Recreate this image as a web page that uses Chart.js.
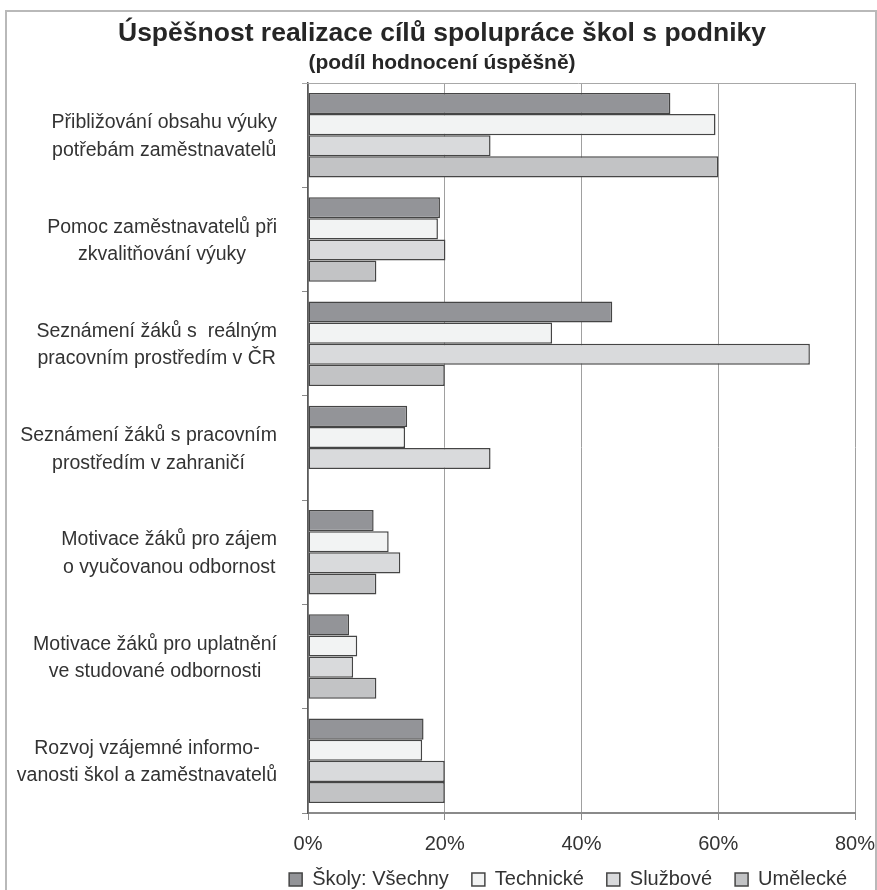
<!DOCTYPE html>
<html>
<head>
<meta charset="utf-8">
<script src="https://cdn.jsdelivr.net/npm/chart.js@4.4.1/dist/chart.umd.min.js"></script>
<style>
  html, body { margin: 0; padding: 0; background: #fff; }
  #wrap { position: relative; width: 877px; height: 890px; overflow: hidden; }
  #frame { position: absolute; left: 5px; top: 10px; width: 868px; height: 900px; border: 2px solid #b9b9b9; }
  canvas { position: absolute; left: 0; top: 0; }
</style>
</head>
<body>
<div id="wrap">
  <div id="frame"></div>
  <canvas id="c" width="877" height="890"></canvas>
</div>
<script>
const titleText = 'Úspěšnost realizace cílů spolupráce škol s podniky';
const subtitleText = '(podíl hodnocení úspěšně)';

const categories = [
  ['Přibližování obsahu výuky', 'potřebám zaměstnavatelů'],
  ['Pomoc zaměstnavatelů při', 'zkvalitňování výuky'],
  ['Seznámení žáků s  reálným', 'pracovním prostředím v ČR'],
  ['Seznámení žáků s pracovním', 'prostředím v zahraničí'],
  ['Motivace žáků pro zájem', 'o vyučovanou odbornost'],
  ['Motivace žáků pro uplatnění', 've studované odbornosti'],
  ['Rozvoj vzájemné informo-', 'vanosti škol a zaměstnavatelů']
];

const seriesNames = ['Školy: Všechny', 'Technické', 'Službové', 'Umělecké'];

const vsechny  = [53.0, 19.3, 44.5, 14.5, 9.6, 6.0, 16.9];
const technicke = [59.6, 19.0, 35.7, 14.2, 11.8, 7.2, 16.7];
const sluzbove = [26.7, 20.1, 73.4, 26.7, 13.5, 6.6, 20.0];
const umelecke = [60.0, 10.0, 20.0, null, 10.0, 10.0, 20.0];

const tickValues = [0, 20, 40, 60, 80];
const tickLabels = ['0%', '20%', '40%', '60%', '80%'];

const fillColors = ['#939498', '#f2f3f3', '#d9dadc', '#c2c3c5'];
const FONT = '"Liberation Sans", Arial, sans-serif';

const seriesValues = [vsechny, technicke, sluzbove, umelecke];

const datasets = seriesNames.map((name, i) => ({
  label: name,
  data: seriesValues[i],
  backgroundColor: fillColors[i],
  borderColor: '#454545',
  borderWidth: 1.5,
  borderSkipped: false,
  categoryPercentage: 0.81,
  barPercentage: 1.0
}));

const customLabels = {
  id: 'customLabels',
  afterLayout(chart) {
    if (chart.legend) {
      chart.legend.top -= 9.5;
    }
  },
  afterDraw(chart) {
    const ctx = chart.ctx;
    const ys = chart.scales.y;
    const ca = chart.chartArea;
    ctx.save();
    // plot top border
    ctx.strokeStyle = '#a8a8a8';
    ctx.lineWidth = 1;
    ctx.beginPath();
    ctx.moveTo(ca.left - 6, ca.top + 0.5);
    ctx.lineTo(ca.right, ca.top + 0.5);
    ctx.stroke();
    // category labels: lines centered within block, block right-aligned
    ctx.font = '19.5px ' + FONT;
    ctx.fillStyle = '#333333';
    ctx.textAlign = 'center';
    ctx.textBaseline = 'middle';
    const lh = 27.5;
    categories.forEach((lines, i) => {
      const yc = ys.getPixelForTick(i) + 1.5;
      const maxW = Math.max(...lines.map(l => ctx.measureText(l).width));
      const cx = ys.right - 31 - maxW / 2;
      lines.forEach((l, j) => {
        ctx.fillText(l, cx, yc + (j - (lines.length - 1) / 2) * lh);
      });
    });
    ctx.restore();
  }
};

new Chart(document.getElementById('c'), {
  type: 'bar',
  data: { labels: categories, datasets },
  plugins: [customLabels],
  options: {
    indexAxis: 'y',
    responsive: false,
    animation: false,
    devicePixelRatio: 1,
    layout: { padding: { left: 14, right: 7, top: 0, bottom: 0 } },
    scales: {
      x: {
        min: 0, max: 80,
        afterBuildTicks(scale) { scale.ticks = tickValues.map(v => ({ value: v })); },
        afterFit(scale) { scale.height = 43; scale.paddingLeft = 0; scale.paddingRight = 22; },
        ticks: {
          callback: (v) => tickLabels[tickValues.indexOf(v)],
          font: { family: FONT, size: 20 },
          color: '#333333',
          padding: 12,
          maxRotation: 0
        },
        grid: { color: '#a0a0a0', lineWidth: 1, drawTicks: true, tickLength: 7, tickColor: '#8a8a8a' },
        border: { display: true, color: '#8a8a8a', width: 2 }
      },
      y: {
        afterFit(scale) { scale.width = 294; },
        ticks: { color: 'rgba(0,0,0,0)', font: { family: FONT, size: 19.5 } },
        grid: { drawOnChartArea: false, drawTicks: true, tickLength: 6, tickColor: '#8a8a8a', offset: true },
        border: { display: true, color: '#5a5a5a', width: 1.5 }
      }
    },
    plugins: {
      title: {
        display: true,
        text: titleText,
        font: { family: FONT, size: 26.5, weight: 'bold' },
        color: '#262626',
        padding: { top: 18, bottom: 1 }
      },
      subtitle: {
        display: true,
        text: subtitleText,
        font: { family: FONT, size: 21, weight: 'bold' },
        color: '#262626',
        padding: { top: 0, bottom: 7 }
      },
      legend: {
        position: 'bottom',
        align: 'end',
        maxHeight: 34,
        labels: {
          font: { family: FONT, size: 20 },
          color: '#333333',
          boxWidth: 13,
          boxHeight: 13,
          padding: 23
        }
      },
      tooltip: { enabled: false }
    }
  }
});
</script>
</body>
</html>
